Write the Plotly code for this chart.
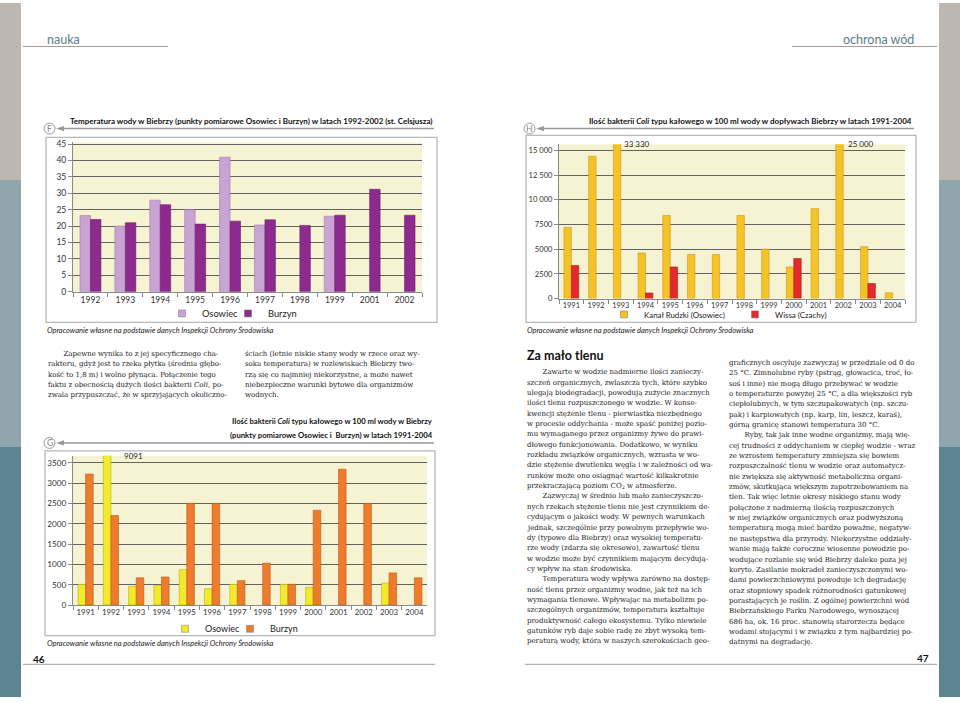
import plotly.graph_objects as go

W, H = 960, 702


def px(x):
    return x / W


def py(y):
    return 1 - y / H


# ---------------- data ----------------
# Chart F: water temperature (deg C)
f_years = ["1992", "1993", "1994", "1995", "1996", "1997", "1998", "1999", "2001", "2002"]
f_osowiec = [23.2, 20.0, 27.9, 25.0, 41.0, 20.3, None, 23.0, None, None]
f_burzyn = [22.0, 21.0, 26.5, 20.6, 21.5, 21.9, 20.2, 23.3, 31.2, 23.3]

# Chart H: Coli bacteria in tributaries
h_years = ["1991", "1992", "1993", "1994", "1995", "1996", "1997",
           "1998", "1999", "2000", "2001", "2002", "2003", "2004"]
h_kanal = [7200, 14400, 33330, 4600, 8400, 4450, 4450, 8400, 5000, 3200, 9100, 25000, 5250, 580]
h_wissa = [3350, None, None, 570, 3200, None, None, None, None, 4050, None, None, 1530, None]
h_tickvals = [0, 2500, 5000, 7500, 10000, 12500, 15000]
h_ticktext = ["0", "2500", "5000", "7500", "10 000", "12 500", "15 000"]

# Chart G: Coli bacteria in Biebrza
g_years = ["1991", "1992", "1993", "1994", "1995", "1996", "1997",
           "1998", "1999", "2000", "2001", "2002", "2003", "2004"]
g_osowiec = [510, 9091, 460, 480, 870, 400, 510, None, 510, 440, None, None, 540, None]
g_burzyn = [3220, 2200, 670, 690, 2500, 2500, 600, 1030, 510, 2330, 3340, 2500, 790, 670]

# ---------------- colours / fonts ----------------
SANS = "Lato"
SERIF = "DejaVu Serif"
C_OSO_F, C_BUR_F = "#c9a3d4", "#8c2a8d"
C_KAN, C_WIS = "#f6c327", "#e42a2a"
C_OSO_G, C_BUR_G = "#f3ea2c", "#ee7c2c"
GRID = "#626262"
AX = "#8a8a8a"
BG = "#f6f3d3"

fig = go.Figure()


def add_bars(x, y, name, color, line, xa, ya):
    fig.add_trace(go.Bar(x=x, y=y, name=name, marker=dict(color=color, line=dict(color=line, width=0.6)),
                         xaxis=xa, yaxis=ya, showlegend=False, hoverinfo="skip", cliponaxis=True))


def add_legend_entry(name, color, legend):
    fig.add_trace(go.Scatter(x=[None], y=[None], mode="markers", name=name,
                             marker=dict(symbol="square", size=7, color=color, line=dict(color="#777", width=0.5)),
                             legend=legend, hoverinfo="skip"))


add_bars(f_years, f_osowiec, "Osowiec", C_OSO_F, "#a07aa9", "x", "y")
add_bars(f_years, f_burzyn, "Burzyn", C_BUR_F, "#6b1f6c", "x", "y")
add_bars(h_years, h_kanal, "Kanał Rudzki (Osowiec)", C_KAN, "#c9961a", "x2", "y2")
add_bars(h_years, h_wissa, "Wissa (Czachy)", C_WIS, "#a81c1c", "x2", "y2")
add_bars(g_years, g_osowiec, "Osowiec", C_OSO_G, "#b8ae1a", "x3", "y3")
add_bars(g_years, g_burzyn, "Burzyn", C_BUR_G, "#b95a1c", "x3", "y3")

add_legend_entry("Osowiec", C_OSO_F, "legend")
add_legend_entry("Burzyn", C_BUR_F, "legend2")
add_legend_entry("Kanał Rudzki (Osowiec)", C_KAN, "legend3")
add_legend_entry("Wissa (Czachy)", C_WIS, "legend4")
add_legend_entry("Osowiec", C_OSO_G, "legend5")
add_legend_entry("Burzyn", C_BUR_G, "legend6")


def tf(size):
    return dict(family=SANS, size=size, color="#333")


def xaxis(dom_px, anchor, cats, fsize):
    return dict(domain=[px(dom_px[0]), px(dom_px[1])], anchor=anchor, type="category",
                categoryorder="array", categoryarray=cats, range=[-0.5, len(cats) - 0.5],
                showline=True, linecolor=AX, linewidth=1, ticks="outside", tickson="boundaries",
                ticklen=4, tickcolor=AX, tickfont=tf(fsize), showgrid=False, fixedrange=True,
                tickangle=0)


def yaxis(dom_px, anchor, rng, fsize, **kw):
    d = dict(domain=[py(dom_px[1]), py(dom_px[0])], anchor=anchor, range=rng, showgrid=True,
             gridcolor=GRID, gridwidth=1, showline=True, linecolor=AX, linewidth=1,
             ticks="outside", ticklen=4, tickcolor=AX, tickfont=tf(fsize), zeroline=False,
             fixedrange=True)
    d.update(kw)
    return d


fig.update_layout(
    width=W, height=H, autosize=False,
    margin=dict(l=0, r=0, t=0, b=0),
    paper_bgcolor="white", plot_bgcolor=BG,
    barmode="group", bargap=0.4, bargroupgap=0,
    xaxis=xaxis((73, 422), "y", f_years, 8.5),
    yaxis=yaxis((141, 292), "x", [0, 45.5], 8.5, dtick=5),
    xaxis2=xaxis((559, 905), "y2", h_years, 7.4),
    yaxis2=yaxis((143, 299), "x2", [0, 15600], 7.6, tickvals=h_tickvals, ticktext=h_ticktext),
    xaxis3=xaxis((73, 427), "y3", g_years, 7.8),
    yaxis3=yaxis((458, 609), "x3", [0, 3670], 8.2, dtick=500),
)


def leg(x, y, size):
    return dict(x=px(x), y=py(y), orientation="h", xanchor="left", yanchor="middle",
                font=dict(family=SANS, size=size, color="#222"), bgcolor="rgba(0,0,0,0)",
                itemwidth=30, itemclick=False, itemdoubleclick=False)


# legend x = intended marker centre - ~22 px
fig.update_layout(
    legend=leg(162, 314, 9.3),
    legend2=leg(228, 314, 9.3),
    legend3=leg(604, 315, 7.9),
    legend4=leg(735, 315, 7.9),
    legend5=leg(165, 633, 9.0),
    legend6=leg(230, 633, 9.0),
)

shapes = []


def rect(x0, y0, x1, y1, fill=None, line=None, lw=1, layer="below"):
    s = dict(type="rect", xref="paper", yref="paper", x0=px(x0), x1=px(x1), y0=py(y1), y1=py(y0),
             layer=layer, line=dict(width=lw if line else 0, color=line or "rgba(0,0,0,0)"))
    if fill:
        s["fillcolor"] = fill
    shapes.append(s)


def hline(x0, x1, y, color, lw=1):
    shapes.append(dict(type="line", xref="paper", yref="paper", x0=px(x0), x1=px(x1), y0=py(y), y1=py(y),
                       line=dict(color=color, width=lw), layer="below"))


# side stripes
for xs in [(0, 21), (939, 960)]:
    rect(xs[0], 0, xs[1], 179, fill="#bfb7b2")
    rect(xs[0], 179, xs[1], 449, fill="#90a5ac")
    rect(xs[0], 449, xs[1], 702, fill="#5d8591")

# header rules
hline(23, 168, 44, "#a39d9a", 1.2)
hline(792, 937, 44, "#a39d9a", 1.2)
# footer rules
hline(23, 435, 669, "#b0b0b0", 1.2)
hline(525, 937, 669, "#b0b0b0", 1.2)

# chart frames
rect(46, 136, 437, 323, line="#b8b8b8", lw=1.3)
rect(526, 134, 916, 323, line="#b8b8b8", lw=1.3)
rect(45, 453, 435, 640, line="#b8b8b8", lw=1.3)

annotations = []


def marker(label, cx, cy, x_end):
    r = 5.5
    shapes.append(dict(type="circle", xref="paper", yref="paper", x0=px(cx - r), x1=px(cx + r),
                       y0=py(cy + r), y1=py(cy - r), line=dict(color="#999", width=1)))
    hline(cx + r + 6, x_end, cy, "#9a9a9a", 1.4)
    path = "M {:.5f},{:.5f} L {:.5f},{:.5f} L {:.5f},{:.5f} Z".format(
        px(cx + r + 1), py(cy), px(cx + r + 9), py(cy - 2.6), px(cx + r + 9), py(cy + 2.6))
    shapes.append(dict(type="path", xref="paper", yref="paper", path=path, fillcolor="#9a9a9a",
                       line=dict(width=0)))
    annotations.append(dict(xref="paper", yref="paper", x=px(cx), y=py(cy), text=label, showarrow=False,
                            font=dict(family=SANS, size=8.5, color="#888"), xanchor="center", yanchor="middle"))


marker("F", 49.5, 127, 434)
marker("H", 529.5, 127, 914)
marker("G", 49.5, 445, 434)


def text(x, y, s, size=9, color="#111", family=SANS, xanchor="left", yanchor="middle", align="left"):
    annotations.append(dict(xref="paper", yref="paper", x=px(x), y=py(y), text=s, showarrow=False,
                            font=dict(family=family, size=size, color=color), xanchor=xanchor,
                            yanchor=yanchor, align=align, borderpad=0))


# page headers
text(63, 37, "nauka", size=12.5, color="#5b7e88", xanchor="center", align="center")
text(878, 37, "ochrona wód", size=12.5, color="#5b7e88", xanchor="center", align="center")
# page numbers
text(32, 664, "<b>46</b>", size=10, color="#111")
text(930, 663, "<b>47</b>", size=10, color="#111", xanchor="right")

# chart titles
text(434, 119, "<b>Temperatura wody w Biebrzy (punkty pomiarowe Osowiec i Burzyn) w latach 1992-2002 (st. Celsjusza)</b>",
     size=8.0, xanchor="right")
text(913, 119, "<b>Ilość bakterii <i>Coli</i> typu kałowego w 100 ml wody w dopływach Biebrzy w latach 1991-2004</b>",
     size=8.0, xanchor="right")
text(434, 423, "<b>Ilość bakterii <i>Coli</i> typu kałowego w 100 ml wody w Biebrzy</b>", size=7.7, xanchor="right")
text(434, 437, "<b>(punkty pomiarowe Osowiec i  Burzyn) w latach 1991-2004</b>", size=7.7, xanchor="right")

# source captions
src = "<i>Opracowanie własne na podstawie danych Inspekcji Ochrony Środowiska</i>"
text(46, 331, src, size=7.5, color="#222")
text(526, 331, src, size=7.5, color="#222")
text(46, 648, src, size=7.5, color="#222")


def fmt(v):
    return f"{v:,}".replace(",", " ") if v >= 10000 else str(v)


# clipped-bar value labels (anchored to the bar categories)
def value_label(xref, yref, cats, cat, value, xshift):
    annotations.append(dict(xref=xref, yref=yref + " domain", x=cats.index(cat), y=1,
                            text=fmt(value),
                            showarrow=False, xanchor="left", yanchor="middle", xshift=xshift, yshift=0,
                            font=dict(family=SANS, size=8, color="#222")))


value_label("x2", "y2", h_years, "1993", h_kanal[h_years.index("1993")], 1)
value_label("x2", "y2", h_years, "2002", h_kanal[h_years.index("2002")], 3)
value_label("x3", "y3", g_years, "1992", g_osowiec[g_years.index("1992")], 11)

# ---------------- body text ----------------
IND = "\u00a0" * 7
left_c1 = [IND + "Zapewne wynika to z jej specyficznego cha-",
           "rakteru, gdyż jest to rzeka płytka (średnia głębo-",
           "kość to 1,8 m) i wolno płynąca. Połączenie tego",
           "faktu z obecnością dużych ilości bakterii <i>Coli</i>, po-",
           "zwala przypuszczać, że w sprzyjających okoliczno-"]
left_c2 = ["ściach (letnie niskie stany wody w rzece oraz wy-",
           "soka temperatura) w rozlewiskach Biebrzy two-",
           "rzą się co najmniej niekorzystne, a może nawet",
           "niebezpieczne warunki bytowe dla organizmów",
           "wodnych."]
right_c1 = [IND + "Zawarte w wodzie nadmierne ilości zanieczy-",
            "szczeń organicznych, zwlaszcza tych, które szybko",
            "ulegają biodegradacji, powodują zużycie znacznych",
            "ilości tlenu rozpuszczonego w wodzie. W konse-",
            "kwencji stężenie tlenu - pierwiastka niezbędnego",
            "w procesie oddychania - może spaść poniżej pozio-",
            "mu wymaganego przez organizmy żywe do prawi-",
            "dłowego funkcjonowania. Dodatkowo, w wyniku",
            "rozkładu związków organicznych, wzrasta w wo-",
            "dzie stężenie dwutlenku węgla i w zależności od wa-",
            "runków może ono osiągnąć wartość kilkakrotnie",
            "przekraczającą poziom CO<sub>2</sub> w atmosferze.",
            IND + "Zazwyczaj w średnio lub mało zanieczyszczo-",
            "nych rzekach stężenie tlenu nie jest czynnikiem de-",
            "cydującym o jakości wody. W pewnych warunkach",
            "jednak, szczególnie przy powolnym przepływie wo-",
            "dy (typowe dla Biebrzy) oraz wysokiej temperatu-",
            "rze wody (zdarza się okresowo), zawartość tlenu",
            "w wodzie może być czynnikiem mającym decydują-",
            "cy wpływ na stan środowiska.",
            IND + "Temperatura wody wpływa zarówno na dostęp-",
            "ność tlenu przez organizmy wodne, jak też na ich",
            "wymagania tlenowe. Wpływając na metabolizm po-",
            "szczególnych organizmów, temperatura kształtuje",
            "produktywność całego ekosystemu. Tylko niewiele",
            "gatunków ryb daje sobie radę ze zbyt wysoką tem-",
            "peraturą wody, która w naszych szerokościach geo-"]
right_c2 = ["graficznych oscyluje zazwyczaj w przedziale od 0 do",
            "25 °C. Zimnolubne ryby (pstrąg, głowacica, troć, ło-",
            "soś i inne) nie mogą długo przebywać w wodzie",
            "o temperaturze powyżej 25 °C, a dla większości ryb",
            "ciepłolubnych, w tym szczupakowatych (np. szczu-",
            "pak) i karpiowatych (np. karp, lin, leszcz, karaś),",
            "górną granicę stanowi temperatura 30 °C.",
            IND + "Ryby, tak jak inne wodne organizmy, mają wię-",
            "cej trudności z oddychaniem w ciepłej wodzie - wraz",
            "ze wzrostem temperatury zmniejsza się bowiem",
            "rozpuszczalność tlenu w wodzie oraz automatycz-",
            "nie zwiększa się aktywność metaboliczna organi-",
            "zmów, skutkująca większym zapotrzebowaniem na",
            "tlen. Tak więc letnie okresy niskiego stanu wody",
            "połączone z nadmierną ilością rozpuszczonych",
            "w niej związków organicznych oraz podwyższoną",
            "temperaturą mogą mieć bardzo poważne, negatyw-",
            "ne następstwa dla przyrody. Niekorzystne oddziały-",
            "wanie mają także coroczne wiosenne powodzie po-",
            "wodujące rozlanie się wód Biebrzy daleko poza jej",
            "koryto. Zasilanie mokradeł zanieczyszczonymi wo-",
            "dami powierzchniowymi powoduje ich degradację",
            "oraz stopniowy spadek różnorodności gatunkowej",
            "porastających je roślin. Z ogólnej powierzchni wód",
            "Biebrzańskiego Parku Narodowego, wynoszącej",
            "686 ha, ok. 16 proc. stanowią starorzecza będące",
            "wodami stojącymi i w związku z tym najbardziej po-",
            "datnymi na degradację."]

LS = 10.47
BODY = 7.0


def column(lines, x, y0):
    for i, ln in enumerate(lines):
        text(x, y0 + i * LS, ln, size=BODY, color="#1a1a1a", family=SERIF)


column(left_c1, 47, 355)
column(left_c2, 244, 355)
column(right_c1, 526, 373.5)
column(right_c2, 728, 364)
text(526, 357, "<b>Za mało tlenu</b>", size=12.5, color="#111")

fig.update_layout(shapes=shapes, annotations=annotations)

fig.write_html("out.html", config={"displayModeBar": False},
               post_script="document.body.style.margin='0';document.body.style.overflow='hidden';")
